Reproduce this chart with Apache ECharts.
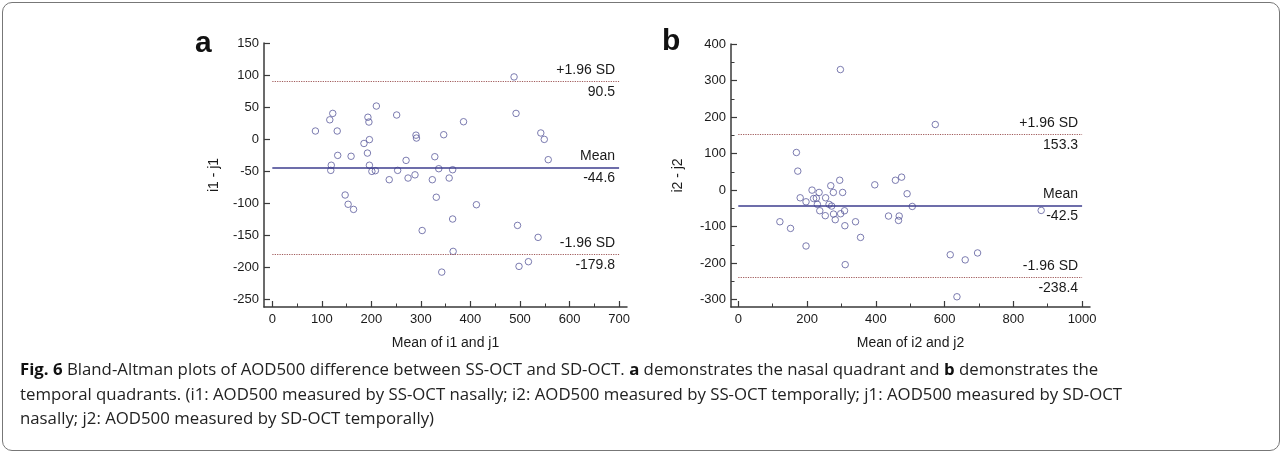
<!DOCTYPE html>
<html><head><meta charset="utf-8">
<script src="https://cdn.jsdelivr.net/npm/echarts@6/dist/echarts.min.js"></script>
<style>
html,body{margin:0;padding:0;background:#fff;width:1284px;height:453px;overflow:hidden}
#frame{position:absolute;left:2px;top:2px;width:1278px;height:449px;border:1px solid #777;border-radius:10px;box-sizing:border-box}
#chart{position:absolute;left:0;top:0;width:1284px;height:453px}
#cap{position:absolute;left:20px;top:357px;font-family:'Open Sans',sans-serif;font-size:16.8px;line-height:24.5px;color:#222;white-space:nowrap}
#cap b{font-weight:700;color:#111}
</style></head><body>
<div id="frame"></div>
<div id="chart"></div>
<div id="cap"><b>Fig. 6</b> Bland-Altman plots of AOD500 difference between SS-OCT and SD-OCT. <b>a</b> demonstrates the nasal quadrant and <b>b</b> demonstrates the<br>temporal quadrants. (i1: AOD500 measured by SS-OCT nasally; i2: AOD500 measured by SS-OCT temporally; j1: AOD500 measured by SD-OCT<br>nasally; j2: AOD500 measured by SD-OCT temporally)</div>
<script>
// Panel a: nasal quadrant
const aMean = [87,116,122,131,132,119,118,159,185,193,195,196,192,196,201,208,210,236,251,253,270,274,290,291,288,323,328,336,346,357,364,147,153,164,302.5,331,342,364,365,488,492,386,542,549,557,412,495,536.5,498,517];
const aDiff = [12.5,30,40,12.5,-25.6,-41,-49,-27,-7,34,26.5,-1,-22,-41,-50.6,-49.5,51.5,-63.6,37.5,-49,-33.4,-61,6,1.5,-56,-63.6,-27.7,-46.4,6.7,-61,-48,-87.5,-102,-110,-143,-91,-208,-125,-175.6,97,40,27,9.4,-0.6,-32.3,-102.7,-135,-153.7,-199,-191.7];
// Panel b: temporal quadrants
const bMean = [297,169,173,214.5,269,295,397,457,180,197,219,227,235,230,237,254,253,264,271.6,276.5,277,282,297.7,303.5,309,310,311,341,355.6,197,121,152,437,573,475,491,506,468,466,616.5,660,696,636,881];
const bDiff = [330,103,52,0,12,27,14.5,27,-21,-32,-23,-22,-6.4,-39,-56.5,-21,-70,-39,-43.7,-6.4,-65.6,-81,-64.7,-6.4,-56.5,-97.5,-204,-86.6,-129.5,-153,-86.6,-104.8,-71,179.6,35.5,-10,-44.7,-71,-83,-177,-191,-172,-292,-55.6];

const limitNames = ['+1.96 SD', 'Mean', '-1.96 SD'];
const aLimits = [90.5, -44.6, -179.8];
const bLimits = [153.3, -42.5, -238.4];
const aLineRange = [0, 700];
const bLineRange = [0, 1000];

const aXTicks = [0,100,200,300,400,500,600,700];
const aXMinor = [50,150,250,350,450,550,650];
const aYTicks = [-250,-200,-150,-100,-50,0,50,100,150];
const bXTicks = [0,200,400,600,800,1000];
const bXMinor = [100,300,500,700,900];
const bYTicks = [-300,-200,-100,0,100,200,300,400];
const bYMinor = [-250,-150,-50,50,150,250,350];

const FONT = 'Liberation Sans, Arial, sans-serif';
const axisColor = '#3a3a3a';
const markerColor = '#5b5b9c';
const meanColor = '#3c3c8e';
const sdColor = '#a05a5a';

function pairs(xs, ys){ return xs.map((x,i)=>[x, ys[i]]); }
const plain = v => String(v);

function xMain(grid, min, max, ticks, name){
  return {gridIndex:grid, type:'value', min, max, position:'bottom',
    axisLine:{onZero:false, lineStyle:{color:axisColor, width:1.5}},
    axisTick:{inside:true, length:6, customValues:ticks, lineStyle:{color:axisColor, width:1.2}},
    axisLabel:{customValues:ticks, formatter:plain, margin:6, color:'#1a1a1a', fontSize:13, fontFamily:FONT},
    splitLine:{show:false},
    name, nameLocation:'middle', nameGap:29,
    nameTextStyle:{color:'#1a1a1a', fontSize:14, fontFamily:FONT}};
}
function xMinor(grid, min, max, ticks){
  return {gridIndex:grid, type:'value', min, max, position:'bottom',
    axisLine:{show:false, onZero:false}, axisLabel:{show:false}, splitLine:{show:false},
    axisTick:{inside:true, length:3.5, customValues:ticks, lineStyle:{color:axisColor, width:1}}};
}
function yMain(grid, min, max, ticks, name, gap){
  return {gridIndex:grid, type:'value', min, max, position:'left',
    axisLine:{show:true, onZero:false, lineStyle:{color:axisColor, width:1.5}},
    axisTick:{show:true, inside:true, length:6, customValues:ticks, lineStyle:{color:axisColor, width:1.2}},
    axisLabel:{customValues:ticks, formatter:plain, margin:5, color:'#1a1a1a', fontSize:13, fontFamily:FONT},
    splitLine:{show:false},
    name, nameLocation:'middle', nameGap:gap,
    nameTextStyle:{color:'#1a1a1a', fontSize:14, fontFamily:FONT}};
}
function yMinor(grid, min, max, ticks){
  return {gridIndex:grid, type:'value', min, max, position:'left', offset:0,
    axisLine:{show:false, onZero:false}, axisLabel:{show:false}, splitLine:{show:false},
    axisTick:{show:true, inside:true, length:3.5, customValues:ticks, lineStyle:{color:axisColor, width:1}}};
}

function limitLines(limits, range){
  const out = [];
  limits.forEach((v,i)=>{
    const isMean = i === 1;
    const ls = isMean ? {type:'solid', color:meanColor, width:1.5} : {type:'dotted', color:sdColor, width:1.2};
    out.push([{coord:[range[0], v], lineStyle:ls,
      label:{show:true, position:'insideEndTop', formatter:limitNames[i], distance:4, color:'#1a1a1a', fontSize:14, fontFamily:FONT}},
      {coord:[range[1], v]}]);
    out.push([{coord:[range[0], v], lineStyle:{color:'rgba(0,0,0,0)', width:0},
      label:{show:true, position:'insideEndBottom', formatter:v.toFixed(1), distance:4, color:'#1a1a1a', fontSize:14, fontFamily:FONT}},
      {coord:[range[1], v]}]);
  });
  return out;
}

function scatter(xi, yi, data, limits, range){
  return {type:'scatter', xAxisIndex:xi, yAxisIndex:yi, data,
    symbol:'circle', symbolSize:6.5,
    itemStyle:{color:'rgba(0,0,0,0)', borderColor:markerColor, borderWidth:1},
    emphasis:{disabled:true}, silent:true,
    markLine:{symbol:'none', silent:true, animation:false, data:limitLines(limits, range)}};
}

const chart = echarts.init(document.getElementById('chart'), null, {renderer:'canvas'});
chart.setOption({
  animation:false,
  backgroundColor:'transparent',
  title:[
    {text:'a', left:190, top:24, textStyle:{fontSize:30, fontWeight:'bold', color:'#111', fontFamily:FONT}},
    {text:'b', left:657, top:22, textStyle:{fontSize:30, fontWeight:'bold', color:'#111', fontFamily:FONT}}
  ],
  grid:[
    {left:264, top:43, width:363, height:264},
    {left:731, top:44, width:359, height:263}
  ],
  xAxis:[
    xMain(0, -16.8, 716, aXTicks, 'Mean of i1 and j1'),
    xMinor(0, -16.8, 716, aXMinor),
    xMain(1, -21.2, 1023, bXTicks, 'Mean of i2 and j2'),
    xMinor(1, -21.2, 1023, bXMinor)
  ],
  yAxis:[
    yMain(0, -262.5, 150, aYTicks, 'i1 - j1', 43),
    yMain(1, -320, 400, bYTicks, 'i2 - j2', 46),
    yMinor(1, -320, 400, bYMinor)
  ],
  series:[
    scatter(0, 0, pairs(aMean, aDiff), aLimits, aLineRange),
    scatter(2, 1, pairs(bMean, bDiff), bLimits, bLineRange)
  ]
});
</script>
</body></html>
